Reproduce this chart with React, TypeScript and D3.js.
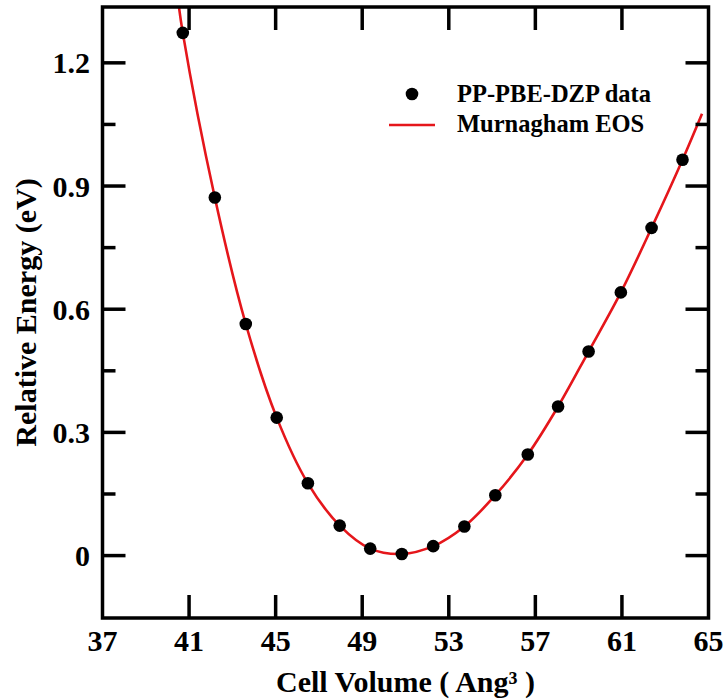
import React from "react";
import * as d3 from "d3";

// Data points (PP-PBE-DZP)
const volumes = [40.71, 42.19, 43.62, 45.05, 46.49, 47.96, 49.37, 50.83, 52.28, 53.72, 55.15, 56.65, 58.05, 59.46, 60.95, 62.37, 63.8];
const energies = [1.273, 0.872, 0.564, 0.336, 0.176, 0.073, 0.017, 0.004, 0.023, 0.071, 0.147, 0.246, 0.363, 0.497, 0.641, 0.798, 0.964];

// Murnaghan EOS fitted curve
const curveVolume = [40.45, 40.71, 42.19, 43.62, 45.05, 46.49, 47.96, 49.37, 50.83, 52.28, 53.72, 55.15, 56.65, 58.05, 59.46, 60.95, 62.37, 63.8, 64.7];
const curveEnergy = [1.37, 1.273, 0.872, 0.564, 0.336, 0.176, 0.073, 0.017, 0.004, 0.023, 0.071, 0.147, 0.246, 0.363, 0.497, 0.641, 0.798, 0.964, 1.076];

const xTicks = [37, 41, 45, 49, 53, 57, 61, 65];
const yMajorTicks = [0, 0.3, 0.6, 0.9, 1.2];
const yMinorTicks = [0.15, 0.45, 0.75, 1.05];
const yTickLabels = ["0", "0.3", "0.6", "0.9", "1.2"];

const legendLabels = ["PP-PBE-DZP data", "Murnagham EOS"];
const xTitle = "Cell Volume ( Ang\u00B3 )";
const yTitle = "Relative Energy (eV)";

const W = 726;
const H = 700;
const left = 102.5;
const right = 708.5;
const top = 7;
const bottom = 618;

const font = "'Liberation Serif', 'Times New Roman', serif";
const red = "#e5161b";

export default function App() {
  const x = d3.scaleLinear().domain([37, 65]).range([left, right]);
  const y = d3.scaleLinear().domain([-0.152, 1.336]).range([bottom, top]);

  const line = d3
    .line<number>()
    .x((_, i) => x(curveVolume[i]))
    .y((_, i) => y(curveEnergy[i]))
    .curve(d3.curveCatmullRom.alpha(0.5));

  const path = line(curveVolume) || "";
  const majorLen = 23;
  const minorLen = 13;
  const sw = 3.5;

  return (
    <svg
      width={W}
      height={H}
      style={{ position: "absolute", left: 0, top: 0, background: "#fff" }}
    >
      <defs>
        <clipPath id="plotclip">
          <rect x={left} y={top} width={right - left} height={bottom - top} />
        </clipPath>
      </defs>
      <rect x={0} y={0} width={W} height={H} fill="#fff" />

      {/* curve */}
      <path
        d={path}
        fill="none"
        stroke={red}
        strokeWidth={2.6}
        clipPath="url(#plotclip)"
      />

      {/* points */}
      {volumes.map((v, i) => (
        <circle key={i} cx={x(v)} cy={y(energies[i])} r={6.3} fill="#000" />
      ))}

      {/* frame */}
      <rect
        x={left}
        y={top}
        width={right - left}
        height={bottom - top}
        fill="none"
        stroke="#000"
        strokeWidth={sw}
      />

      {/* x ticks bottom and top */}
      {xTicks.slice(1, -1).map((t) => (
        <g key={"xt" + t}>
          <line x1={x(t)} x2={x(t)} y1={bottom} y2={bottom - majorLen} stroke="#000" strokeWidth={sw} />
          <line x1={x(t)} x2={x(t)} y1={top} y2={top + majorLen} stroke="#000" strokeWidth={sw} />
        </g>
      ))}
      {xTicks.map((t) => (
        <text
          key={"xl" + t}
          x={x(t)}
          y={651}
          textAnchor="middle"
          fontFamily={font}
          fontWeight="bold"
          fontSize={30}
          fill="#000"
        >
          {t}
        </text>
      ))}

      {/* y ticks left and right */}
      {yMajorTicks.map((t) => (
        <g key={"ym" + t}>
          <line x1={left} x2={left + majorLen} y1={y(t)} y2={y(t)} stroke="#000" strokeWidth={sw} />
          <line x1={right} x2={right - majorLen} y1={y(t)} y2={y(t)} stroke="#000" strokeWidth={sw} />
        </g>
      ))}
      {yMinorTicks.map((t) => (
        <g key={"yn" + t}>
          <line x1={left} x2={left + minorLen} y1={y(t)} y2={y(t)} stroke="#000" strokeWidth={sw} />
          <line x1={right} x2={right - minorLen} y1={y(t)} y2={y(t)} stroke="#000" strokeWidth={sw} />
        </g>
      ))}
      {yMajorTicks.map((t, i) => (
        <text
          key={"yl" + t}
          x={90}
          y={y(t)}
          dy="0.35em"
          textAnchor="end"
          fontFamily={font}
          fontWeight="bold"
          fontSize={30}
          fill="#000"
        >
          {yTickLabels[i]}
        </text>
      ))}

      {/* axis titles */}
      <text
        x={(left + right) / 2}
        y={692}
        textAnchor="middle"
        fontFamily={font}
        fontWeight="bold"
        fontSize={30}
        fill="#000"
      >
        {xTitle}
      </text>
      <text
        transform={`translate(36, ${(top + bottom) / 2}) rotate(-90)`}
        textAnchor="middle"
        fontFamily={font}
        fontWeight="bold"
        fontSize={30}
        fill="#000"
      >
        {yTitle}
      </text>

      {/* legend */}
      <circle cx={412} cy={94} r={6.3} fill="#000" />
      <text x={457} y={102} fontFamily={font} fontWeight="bold" fontSize={24.5} fill="#000">
        {legendLabels[0]}
      </text>
      <line x1={389} x2={435} y1={125} y2={125} stroke={red} strokeWidth={2.6} />
      <text x={457} y={132} fontFamily={font} fontWeight="bold" fontSize={24.5} fill="#000">
        {legendLabels[1]}
      </text>
    </svg>
  );
}
